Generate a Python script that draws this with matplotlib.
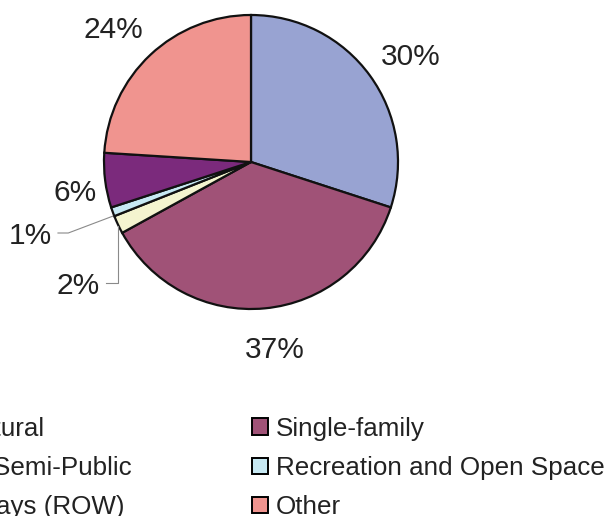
import numpy as np
import matplotlib
matplotlib.use("Agg")
import matplotlib.pyplot as plt
from matplotlib.patches import Patch

plt.rcParams['font.family'] = ['Liberation Sans', 'DejaVu Sans']

# land use shares, clockwise from 12 o'clock
categories = ['Agricultural', 'Single-family', 'Public/Semi-Public',
              'Recreation and Open Space', 'Roadways (ROW)', 'Other']
shares = [30, 37, 2, 1, 6, 24]
colors = ['#98A3D2', '#A05277', '#F4F4CF', '#C7E9F3', '#7B2A7C', '#F0948F']

fig = plt.figure(figsize=(6.11, 5.16), dpi=100)
ax = fig.add_axes([104 / 611, 1 - 309 / 516, 294 / 611, 294 / 516])

wedges, _ = ax.pie(shares, colors=colors, startangle=90, counterclock=False,
                   radius=1.0,
                   wedgeprops=dict(edgecolor='#111111', linewidth=1.6))
ax.set_xlim(-1, 1)
ax.set_ylim(-1, 1)
ax.set_aspect('equal')
ax.axis('off')

# label placement: radial distance for regular labels, fixed spots for the small ones
label_dist = [1.31, 1.27, None, None, 1.21, 1.31]
label_ang_shift = [-2, 2, 0, 0, 2, 2.5]
leader_pos = {2: (-1.177, -0.823), 3: (-1.503, -0.483)}
ydrop = 0.02

for i, (w, v) in enumerate(zip(wedges, shares)):
    mid = np.deg2rad((w.theta1 + w.theta2) / 2)
    txt = f'{v}%'
    if i in leader_pos:
        tx, ty = leader_pos[i]
        ax.text(tx, ty - ydrop, txt, fontsize=21.5, ha='center', va='center',
                color='#222222')
        ex, ey = np.cos(mid), np.sin(mid)
        x0 = tx + 0.19
        if i == 2:
            xs = [x0, ex, ex]
            ys = [ty, ty, ey - 0.01]
        else:
            xs = [x0, x0 + 0.07, ex]
            ys = [ty, ty, ey - 0.03]
        ax.plot(xs, ys, color='#8a8a8a', lw=0.8, clip_on=False)
    else:
        a = mid + np.deg2rad(label_ang_shift[i])
        r = label_dist[i]
        ax.text(r * np.cos(a), r * np.sin(a) - ydrop, txt, fontsize=21.5,
                ha='center', va='center', color='#222222')

handles = [Patch(facecolor=c, edgecolor='black', linewidth=1.4) for c in colors]
common = dict(frameon=False, fontsize=18.7, handlelength=0.62, handleheight=0.62,
              handletextpad=0.3, labelspacing=0.58, borderpad=0, borderaxespad=0)
left_idx = [0, 2, 4]
right_idx = [1, 3, 5]
top = 1 - 417 / 516
leg1 = fig.legend([handles[i] for i in left_idx], [categories[i] for i in left_idx],
                  loc='upper right', bbox_to_anchor=(132 / 611, top), **common)
leg2 = fig.legend([handles[i] for i in right_idx], [categories[i] for i in right_idx],
                  loc='upper left', bbox_to_anchor=(252 / 611, top), **common)
for leg in (leg1, leg2):
    for t in leg.get_texts():
        t.set_color('#222222')

fig.savefig('out.png', dpi=100)
